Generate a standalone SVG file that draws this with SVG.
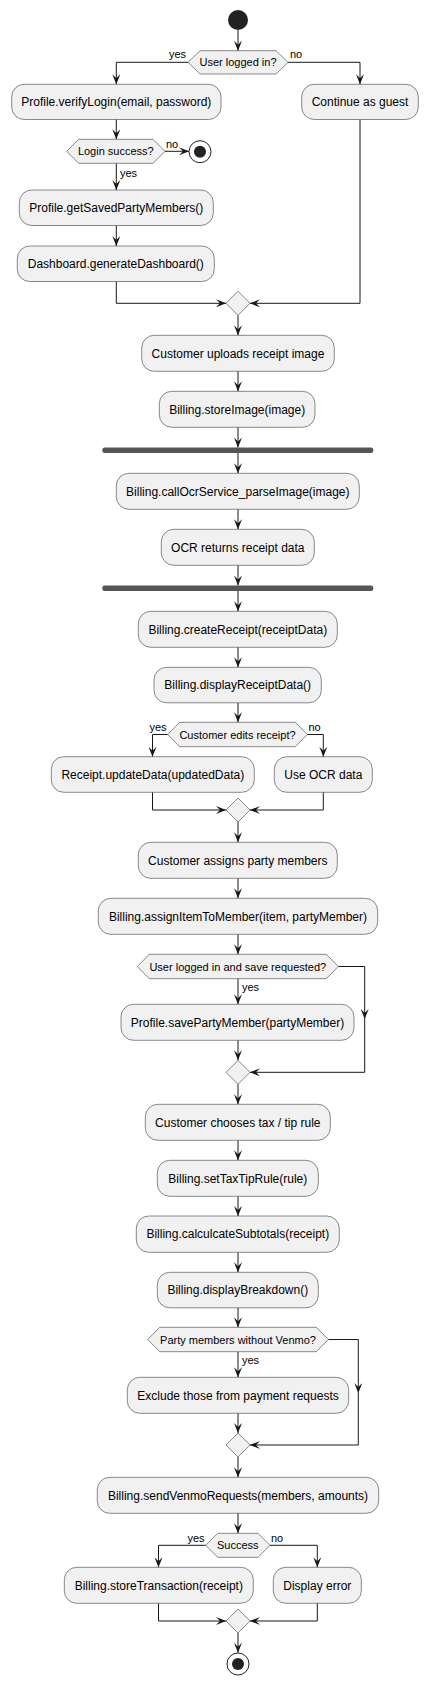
<svg xmlns="http://www.w3.org/2000/svg" width="428" height="1685" viewBox="0 0 428 1685">
<defs>
<style>
.box{fill:#F1F1F1;stroke:#181818;stroke-width:0.5}
.dec{fill:#F1F1F1;stroke:#181818;stroke-width:0.5}
.bar{fill:#555555;stroke:none}
.t{font-family:"Liberation Sans",Arial,sans-serif;font-size:12px;fill:#000;text-anchor:middle}
.dt{font-family:"Liberation Sans",Arial,sans-serif;font-size:11px;fill:#000;text-anchor:middle}
.lbl{font-family:"Liberation Sans",Arial,sans-serif;font-size:11px;fill:#000}
.c{fill:none;stroke:#181818;stroke-width:1}
.a{marker-end:url(#arr)}
</style>
<marker id="arr" viewBox="0 0 10 8" refX="10" refY="4" markerWidth="10" markerHeight="8" markerUnits="userSpaceOnUse" orient="auto">
<path d="M0,0 L10,4 L0,8 L4,4 Z" fill="#181818"/>
</marker>
</defs>
<rect width="428" height="1685" fill="#FFFFFF"/>

<g id="connectors">
<path class="c a" d="M238,30 V50.7"/>
<path class="c a" d="M188,62.3 H116.3 V84.3"/>
<path class="c a" d="M288,62.3 H360 V84.3"/>
<path class="c a" d="M116.3,119.5 V139.3"/>
<path class="c a" d="M165,151.3 H189"/>
<path class="c a" d="M116.3,163.3 V190"/>
<path class="c a" d="M116.3,225.5 V246"/>
<path class="c a" d="M116.3,281.5 V303.3 H226"/>
<path class="c a" d="M360,119.5 V303.3 H250"/>
<path class="c a" d="M238,315.3 V335.3"/>
<path class="c a" d="M238,371.3 V391.3"/>
<path class="c a" d="M238,427.3 V447.5"/>
<path class="c a" d="M238,453 V473.3"/>
<path class="c a" d="M238,509.3 V529.3"/>
<path class="c a" d="M238,565.3 V585.5"/>
<path class="c a" d="M238,591 V611.3"/>
<path class="c a" d="M238,647.3 V667.3"/>
<path class="c a" d="M238,702.8 V722.3"/>
<path class="c a" d="M167.7,734.5 H152.5 V756.7"/>
<path class="c a" d="M307.3,734.5 H323.3 V756.7"/>
<path class="c a" d="M152.5,792.3 V810 H226"/>
<path class="c a" d="M323.3,792.3 V810 H250"/>
<path class="c a" d="M238,822 V842.3"/>
<path class="c a" d="M238,878.3 V898.3"/>
<path class="c a" d="M238,934.3 V954.3"/>
<path class="c a" d="M238,978.7 V1004.3"/>
<path class="c a" d="M338.3,966.5 H364.7 V1019"/>
<path class="c a" d="M364.7,1019 V1072.3 H250"/>
<path class="c a" d="M238,1040.3 V1060.3"/>
<path class="c a" d="M238,1084.3 V1104.3"/>
<path class="c a" d="M238,1140.3 V1160.3"/>
<path class="c a" d="M238,1196.3 V1216"/>
<path class="c a" d="M238,1252.3 V1272.3"/>
<path class="c a" d="M238,1307.8 V1327.3"/>
<path class="c a" d="M238,1351.7 V1377.3"/>
<path class="c a" d="M328.3,1339.5 H358.3 V1393"/>
<path class="c a" d="M358.3,1393 V1445 H250"/>
<path class="c a" d="M238,1413.3 V1433"/>
<path class="c a" d="M238,1457 V1477.3"/>
<path class="c a" d="M238,1513.3 V1533.3"/>
<path class="c a" d="M205.7,1545.3 H158.5 V1567.3"/>
<path class="c a" d="M270,1545.3 H317.3 V1567.3"/>
<path class="c a" d="M158.5,1603.3 V1621 H226"/>
<path class="c a" d="M317.3,1603.3 V1621 H250"/>
<path class="c a" d="M238,1633 V1652.7"/>
<text class="lbl" x="186" y="58" text-anchor="end">yes</text>
<text class="lbl" x="290" y="58">no</text>
<text class="lbl" x="166" y="147.5">no</text>
<text class="lbl" x="120" y="177">yes</text>
<text class="lbl" x="166.5" y="731" text-anchor="end">yes</text>
<text class="lbl" x="308.5" y="731">no</text>
<text class="lbl" x="242" y="991">yes</text>
<text class="lbl" x="242" y="1364">yes</text>
<text class="lbl" x="204.5" y="1541.5" text-anchor="end">yes</text>
<text class="lbl" x="271" y="1541.5">no</text>
</g>

<g id="start"><circle cx="238" cy="20" r="10" fill="#222222"/></g>

<g id="d_logged"><polygon class="dec" points="188,62.3 200,50.7 276,50.7 288,62.3 276,74 200,74"/><text class="dt" x="238" y="66.3">User logged in?</text></g>
<g id="verifyLogin"><rect class="box" x="11.7" y="84.3" width="209.3" height="35.2" rx="12.5"/><text class="t" x="116.3" y="106.3">Profile.verifyLogin(email, password)</text></g>
<g id="guest"><rect class="box" x="301.7" y="84.3" width="116.6" height="35.2" rx="12.5"/><text class="t" x="360" y="106.3">Continue as guest</text></g>
<g id="d_login"><polygon class="dec" points="66.7,151.3 78.7,139.3 153,139.3 165,151.3 153,163.3 78.7,163.3"/><text class="dt" x="115.8" y="155.3">Login success?</text></g>
<g id="end1"><circle cx="200" cy="151.7" r="11" fill="none" stroke="#222222" stroke-width="1"/><circle cx="200" cy="151.7" r="6" fill="#222222"/></g>
<g id="getSaved"><rect class="box" x="19.3" y="190" width="194" height="35.5" rx="12.5"/><text class="t" x="116.3" y="212">Profile.getSavedPartyMembers()</text></g>
<g id="dashboard"><rect class="box" x="17.3" y="246" width="197" height="35.5" rx="12.5"/><text class="t" x="115.8" y="268">Dashboard.generateDashboard()</text></g>
<g id="m1"><polygon class="dec" points="238,291.3 250,303.3 238,315.3 226,303.3"/></g>
<g id="uploads"><rect class="box" x="141.7" y="335.3" width="192.6" height="36" rx="12.5"/><text class="t" x="238" y="357.5">Customer uploads receipt image</text></g>
<g id="storeImage"><rect class="box" x="159.3" y="391.3" width="155.7" height="36" rx="12.5"/><text class="t" x="237.2" y="413.5">Billing.storeImage(image)</text></g>
<g id="fork"><rect class="bar" x="102.3" y="447.5" width="271" height="5.5" rx="2.5"/></g>
<g id="callOcr"><rect class="box" x="116.3" y="473.3" width="243" height="36" rx="12.5"/><text class="t" x="237.8" y="495.5">Billing.callOcrService_parseImage(image)</text></g>
<g id="ocrReturns"><rect class="box" x="161.3" y="529.3" width="153" height="36" rx="12.5"/><text class="t" x="237.8" y="551.5">OCR returns receipt data</text></g>
<g id="join"><rect class="bar" x="102.3" y="585.5" width="271" height="5.5" rx="2.5"/></g>
<g id="createReceipt"><rect class="box" x="138.3" y="611.3" width="199" height="36" rx="12.5"/><text class="t" x="237.8" y="633.5">Billing.createReceipt(receiptData)</text></g>
<g id="displayReceipt"><rect class="box" x="154" y="667.3" width="167.3" height="35.5" rx="12.5"/><text class="t" x="237.7" y="689.3">Billing.displayReceiptData()</text></g>
<g id="d_edits"><polygon class="dec" points="167.7,734.5 179.7,722.3 295.3,722.3 307.3,734.5 295.3,746.7 179.7,746.7"/><text class="dt" x="237.5" y="738.5">Customer edits receipt?</text></g>
<g id="updateData"><rect class="box" x="51.3" y="756.7" width="203" height="35.6" rx="12.5"/><text class="t" x="152.8" y="778.8">Receipt.updateData(updatedData)</text></g>
<g id="useOcr"><rect class="box" x="274.3" y="756.7" width="98" height="35.6" rx="12.5"/><text class="t" x="323.3" y="778.8">Use OCR data</text></g>
<g id="m2"><polygon class="dec" points="238,798 250,810 238,822 226,810"/></g>
<g id="assigns"><rect class="box" x="138.3" y="842.3" width="199" height="36" rx="12.5"/><text class="t" x="237.8" y="864.5">Customer assigns party members</text></g>
<g id="assignItem"><rect class="box" x="98.3" y="898.3" width="279.4" height="36" rx="12.5"/><text class="t" x="238" y="920.5">Billing.assignItemToMember(item, partyMember)</text></g>
<g id="d_save"><polygon class="dec" points="137.3,966.5 149.3,954.3 326.3,954.3 338.3,966.5 326.3,978.7 149.3,978.7"/><text class="dt" x="237.8" y="970.5">User logged in and save requested?</text></g>
<g id="savePM"><rect class="box" x="121" y="1004.3" width="233" height="36" rx="12.5"/><text class="t" x="237.5" y="1026.5">Profile.savePartyMember(partyMember)</text></g>
<g id="m3"><polygon class="dec" points="238,1060.3 250,1072.3 238,1084.3 226,1072.3"/></g>
<g id="chooses"><rect class="box" x="145.3" y="1104.3" width="185" height="36" rx="12.5"/><text class="t" x="237.8" y="1126.5">Customer chooses tax / tip rule</text></g>
<g id="setTax"><rect class="box" x="157.3" y="1160.3" width="161" height="36" rx="12.5"/><text class="t" x="237.8" y="1182.5">Billing.setTaxTipRule(rule)</text></g>
<g id="subtotals"><rect class="box" x="136.3" y="1216" width="203" height="36.3" rx="12.5"/><text class="t" x="237.8" y="1238.3">Billing.calculcateSubtotals(receipt)</text></g>
<g id="breakdown"><rect class="box" x="157.3" y="1272.3" width="161" height="35.5" rx="12.5"/><text class="t" x="237.8" y="1294.3">Billing.displayBreakdown()</text></g>
<g id="d_venmo"><polygon class="dec" points="147.7,1339.5 159.7,1327.3 316.3,1327.3 328.3,1339.5 316.3,1351.7 159.7,1351.7"/><text class="dt" x="238" y="1343.5">Party members without Venmo?</text></g>
<g id="exclude"><rect class="box" x="127.3" y="1377.3" width="221.4" height="36" rx="12.5"/><text class="t" x="238" y="1399.5">Exclude those from payment requests</text></g>
<g id="m4"><polygon class="dec" points="238,1433 250,1445 238,1457 226,1445"/></g>
<g id="sendVenmo"><rect class="box" x="97.3" y="1477.3" width="281.4" height="36" rx="12.5"/><text class="t" x="238" y="1499.5">Billing.sendVenmoRequests(members, amounts)</text></g>
<g id="d_success"><polygon class="dec" points="205.7,1545.3 217.7,1533.3 258,1533.3 270,1545.3 258,1557.3 217.7,1557.3"/><text class="dt" x="237.8" y="1549.3">Success</text></g>
<g id="storeTx"><rect class="box" x="64.3" y="1567.3" width="189" height="36" rx="12.5"/><text class="t" x="158.8" y="1589.5">Billing.storeTransaction(receipt)</text></g>
<g id="displayError"><rect class="box" x="273.3" y="1567.3" width="88" height="36" rx="12.5"/><text class="t" x="317.3" y="1589.5">Display error</text></g>
<g id="m5"><polygon class="dec" points="238,1609 250,1621 238,1633 226,1621"/></g>
<g id="end2"><circle cx="238" cy="1664" r="11" fill="none" stroke="#222222" stroke-width="1"/><circle cx="238" cy="1664" r="6" fill="#222222"/></g>
</svg>
